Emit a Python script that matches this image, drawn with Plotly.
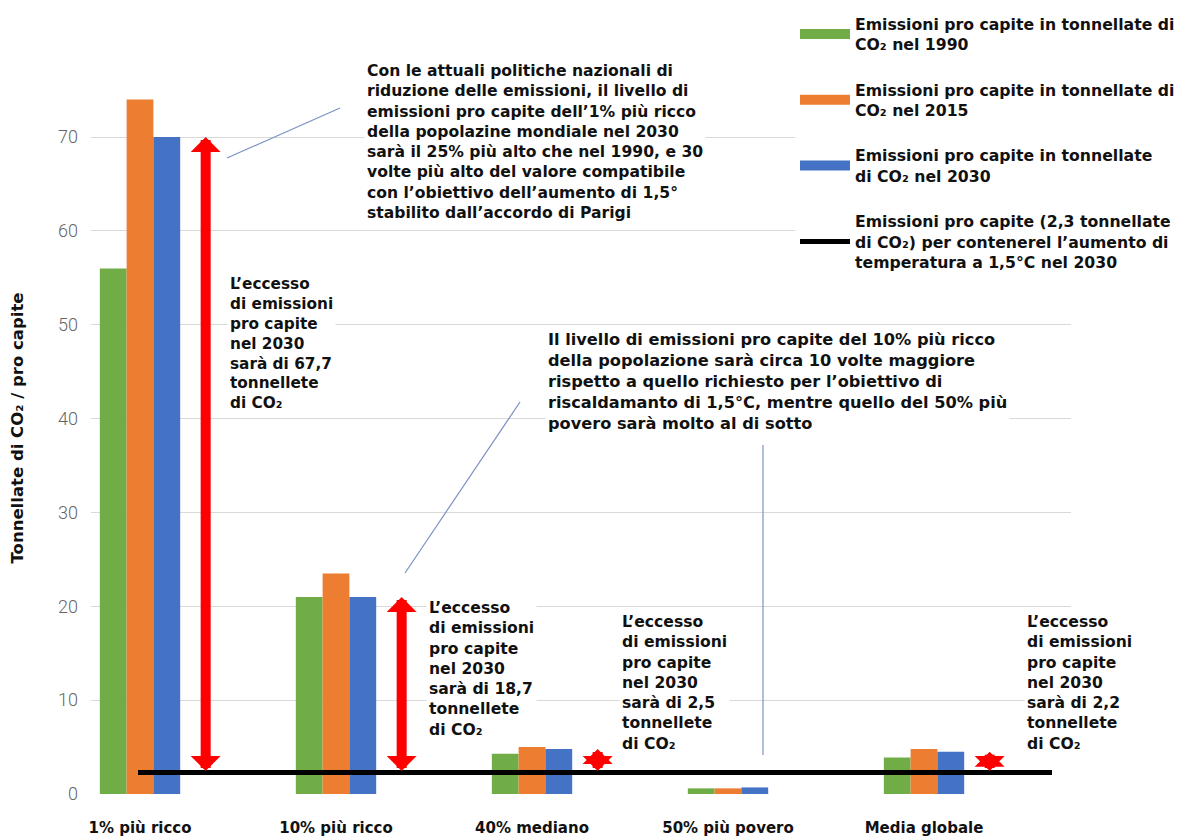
import plotly.graph_objects as go

# ---------------- data ----------------
categories = ["1% più ricco", "10% più ricco", "40% mediano", "50% più povero", "Media globale"]
emissioni_1990 = [56.0, 21.0, 4.3, 0.6, 3.9]
emissioni_2015 = [74.0, 23.5, 5.0, 0.6, 4.8]
emissioni_2030 = [70.0, 21.0, 4.8, 0.7, 4.5]
obiettivo_15 = 2.3
y_tick_values = [0, 10, 20, 30, 40, 50, 60, 70]
series_names = [
    "Emissioni pro capite in tonnellate di<br>CO₂ nel 1990",
    "Emissioni pro capite in tonnellate di<br>CO₂ nel 2015",
    "Emissioni pro capite in tonnellate<br>di CO₂ nel 2030",
    "Emissioni pro capite (2,3 tonnellate<br>di CO₂) per contenerel l’aumento di<br>temperatura a 1,5°C nel 2030",
]
excess_labels = ["67,7", "18,7", "2,5", None, "2,2"]

# ---------------- style ----------------
FONT = "DejaVu Sans, Verdana, sans-serif"
GREEN, ORANGE, BLUE = "#70AD47", "#ED7D31", "#4472C4"
W, H = 1197, 836
L, R, T, B = 91, 126, 62, 42
X_RANGE = [-0.25, 4.75]
Y_RANGE = [0, 78]


def px_to_data(px, py):
    xd = X_RANGE[0] + (px - L) / (W - L - R) * (X_RANGE[1] - X_RANGE[0])
    yd = Y_RANGE[0] + (H - B - py) / (H - T - B) * (Y_RANGE[1] - Y_RANGE[0])
    return xd, yd


def px_to_paper(px, py):
    return (px - L) / (W - L - R), (H - B - py) / (H - T - B)


xs = list(range(len(categories)))

fig = go.Figure()
for vals, col, name, grp in [
    (emissioni_1990, GREEN, series_names[0], "a"),
    (emissioni_2015, ORANGE, series_names[1], "b"),
    (emissioni_2030, BLUE, series_names[2], "c"),
]:
    fig.add_trace(go.Bar(x=xs, y=vals, name=name, marker_color=col,
                         marker_line_width=0, legendgroup=grp, showlegend=False))
    # wide rectangular legend swatch, like the reference
    fig.add_trace(go.Scatter(x=[None], y=[None], mode="lines", name=name,
                             line=dict(color=col, width=10), legendgroup=grp,
                             hoverinfo="skip"))

# target line
x0, _ = px_to_data(138, 0)
x1, _ = px_to_data(1052, 0)
fig.add_trace(go.Scatter(x=[x0, x1], y=[obiettivo_15, obiettivo_15], mode="lines",
                         line=dict(color="black", width=5), name=series_names[3],
                         legendgroup="d"))

annotations = []
shapes = []

# red double arrows showing excess
ARROW_OFFSET = 0.335
for i, lab in enumerate(excess_labels):
    if lab is None:
        continue
    annotations.append(dict(
        x=xs[i] + ARROW_OFFSET, y=emissioni_2030[i], xref="x", yref="y",
        ax=xs[i] + ARROW_OFFSET, ay=obiettivo_15, axref="x", ayref="y",
        text="", showarrow=True, arrowhead=1, arrowside="end+start",
        arrowwidth=10, arrowsize=0.5, arrowcolor="#FF0000"))

TXT = dict(family=FONT, size=15, color="#111111", weight="bold")


def text_box(px, py, text, size=15):
    xp, yp = px_to_paper(px, py)
    annotations.append(dict(
        x=xp, y=yp, xref="paper", yref="paper", xanchor="left", yanchor="top",
        text=text, showarrow=False, align="left", bgcolor="white",
        borderpad=2, font=dict(TXT, size=size)))


def excess_text(val):
    return ("L’eccesso<br>di emissioni<br>pro capite<br>nel 2030<br>"
            f"sarà di {val}<br>tonnellete<br>di CO₂")


text_box(364, 59, "Con le attuali politiche nazionali di<br>riduzione delle emissioni, il livello di<br>"
         "emissioni pro capite dell’1% più ricco<br>della popolazine mondiale nel 2030<br>"
         "sarà il 25% più alto che nel 1990, e 30<br>volte più alto del valore compatibile<br>"
         "con l’obiettivo dell’aumento di 1,5°<br>stabilito dall’accordo di Parigi", 15.6)
text_box(545, 327, "Il livello di emissioni pro capite del 10% più ricco<br>"
         "della popolazione sarà circa 10 volte maggiore<br>"
         "rispetto a quello richiesto per l’obiettivo di<br>"
         "riscaldamanto di 1,5°C, mentre quello del 50% più<br>"
         "povero sarà molto al di sotto", 16.2)
text_box(227, 272, excess_text(excess_labels[0]), 15.3)
text_box(426, 596, excess_text(excess_labels[1]), 15.6)
text_box(619, 610, excess_text(excess_labels[2]), 15.6)
text_box(1024, 610, excess_text(excess_labels[4]), 15.6)

# leader lines
LEADER = dict(color="#7A93C2", width=1.2)
for (ax_, ay_), (bx_, by_) in [((227, 158), (340, 108)),
                                 ((405, 573), (520, 402)),
                                 ((763, 445), (763, 755))]:
    xa, ya = px_to_data(ax_, ay_)
    xb, yb = px_to_data(bx_, by_)
    shapes.append(dict(type="line", xref="x", yref="y", x0=xa, y0=ya, x1=xb, y1=yb,
                       line=LEADER, layer="above"))

fig.update_layout(
    width=W, height=H, autosize=False,
    margin=dict(l=L, r=R, t=T, b=B, autoexpand=False),
    paper_bgcolor="white", plot_bgcolor="white",
    barmode="group", bargap=0.59, bargroupgap=0,
    font=dict(family=FONT, color="#111111"),
    showlegend=True,
    legend=dict(xref="container", yref="container", x=795 / W, y=1 - 7 / H,
                xanchor="left", yanchor="top", bgcolor="white",
                font=dict(family=FONT, size=15.7, color="#111111", weight="bold"),
                traceorder="grouped", tracegroupgap=22, itemwidth=50,
                valign="middle"),
    xaxis=dict(range=X_RANGE, tickvals=xs, ticktext=categories, showgrid=False,
               zeroline=False, showline=False, ticks="",
               tickfont=dict(family=FONT, size=15, color="#111111", weight="bold"),
               ticklabelstandoff=23),
    yaxis=dict(range=Y_RANGE, tickvals=y_tick_values, showgrid=True,
               gridcolor="#D9D9D9", gridwidth=1, zeroline=False, showline=False,
               ticks="", ticklabelstandoff=12,
               tickfont=dict(family="Roboto, sans-serif", size=18, color="#666666", weight=300),
               title=dict(text="Tonnellate di CO₂ / pro capite", standoff=30,
                          font=dict(family=FONT, size=16.5, color="#111111", weight="bold"))),
    annotations=annotations,
    shapes=shapes,
)

fig.write_html("out.html")
